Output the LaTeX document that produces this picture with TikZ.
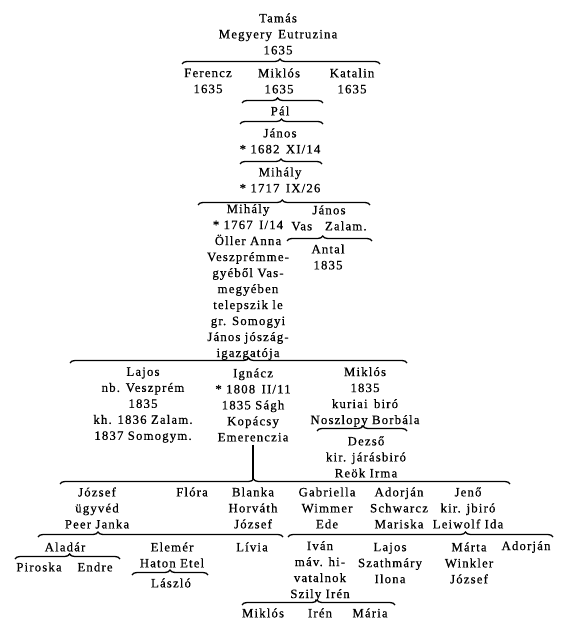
\documentclass[tikz,border=0pt]{standalone}
\usepackage{fontspec}
\setmainfont{Liberation Serif}[LetterSpace=9, FakeBold=0.5]
\usetikzlibrary{decorations.pathreplacing}
\begin{document}
\begin{tikzpicture}[x=1pt,y=-1pt,
  person/.style={align=center, inner sep=0pt, font=\fontsize{12.8}{16}\selectfont},
  br/.style={decorate, decoration={brace, amplitude=5pt, aspect=#1}, line width=1.3pt},
  br/.default=0.5,
  stem/.style={line width=1.7pt}]
\useasboundingbox (0,0) rectangle (574,636);
% ---------- people ----------
\node[person] (tamas) at (278,34) {Tamás\\Megyery\enskip Eutruzina\\1635};
\node[person] (ferencz) at (208,81) {Ferencz\\1635};
\node[person] (miklosA) at (279,81) {Miklós\\1635};
\node[person] (katalin) at (352,81) {Katalin\\1635};
\node[person] (pal) at (280,111) {Pál};
\node[person] (janosA) at (280,141) {János\\* 1682\enskip XI/14};
\node[person] (mihalyA) at (280,180) {Mihály\\* 1717\enskip IX/26};
\node[person] (mihalyB) at (248,282) {Mihály\\* 1767\enskip I/14\\Öller Anna\\Veszprémme-\\gyéből Vas-\\megyében\\telepszik le\\gr. Somogyi\\János jószág-\\igazgatója};
\node[person] (janosB) at (329,218) {János\\Vas\enskip\enskip Zalam.};
\node[person] (antal) at (328,257) {Antal\\1835};
\node[person] (lajosA) at (143,405) {Lajos\\nb. Veszprém\\1835\\kh. 1836 Zalam.\\1837 Somogym.};
\node[person] (ignacz) at (253,405) {Ignácz\\* 1808\enskip II/11\\1835 Ságh\\Kopácsy\\Emerenczia};
\node[person] (miklosB) at (365,397) {Miklós\\1835\\kuriai\enskip biró\\Noszlopy Borbála};
\node[person] (dezso) at (366,457) {Dezső\\kir. járásbiró\\Reök Irma};
\node[person] (jozsef) at (97,508) {József\\ügyvéd\\Peer Janka};
\node[person] (flora) at (192,492) {Flóra};
\node[person] (blanka) at (253,508) {Blanka\\Horváth\\József};
\node[person] (gabriella) at (327,508) {Gabriella\\Wimmer\\Ede};
\node[person] (adorjanA) at (399,508) {Adorján\\Schwarcz\\Mariska};
\node[person] (jeno) at (468,508) {Jenő\\kir. jbiró\\Leiwolf Ida};
\node[person] (aladar) at (65,547) {Aladár};
\node[person] (elemer) at (172,555) {Elemér\\Haton Etel};
\node[person] (livia) at (252,547) {Lívia};
\node[person] (ivan) at (320,571) {Iván\\máv. hi-\\vatalnok\\Szily Irén};
\node[person] (lajosB) at (390,563) {Lajos\\Szathmáry\\Ilona};
\node[person] (marta) at (469,563) {Márta\\Winkler\\József};
\node[person] (adorjanB) at (526,547) {Adorján};
\node[person] (piroska) at (39,567) {Piroska};
\node[person] (endre) at (95,567) {Endre};
\node[person] (laszlo) at (171,583) {László};
\node[person] (miklosC) at (263,613) {Miklós};
\node[person] (iren) at (320,613) {Irén};
\node[person] (maria) at (370,613) {Mária};
% ---------- brace end points ----------
\coordinate (b1l) at (182,64);  \coordinate (b1r) at (380,64);
\coordinate (b2l) at (242,103); \coordinate (b2r) at (323,103);
\coordinate (b3l) at (240,124); \coordinate (b3r) at (323,124);
\coordinate (b4l) at (240,164); \coordinate (b4r) at (322,164);
\coordinate (b5l) at (198,205); \coordinate (b5r) at (370,205);
\coordinate (b6l) at (287,241); \coordinate (b6r) at (372,241);
\coordinate (b7l) at (70,363);  \coordinate (b7r) at (407,363);
\coordinate (b8l) at (317,431); \coordinate (b8r) at (407,431);
\coordinate (b9l) at (60,484);  \coordinate (b9r) at (510,484);
\coordinate (b9t) at (253,479);
\coordinate (b10l) at (38,537); \coordinate (b10r) at (283,537);
\coordinate (b11l) at (288,537); \coordinate (b11r) at (553,537);
\coordinate (b12l) at (15,559); \coordinate (b12r) at (120,559);
\coordinate (b13l) at (132,575); \coordinate (b13r) at (208,575);
\coordinate (b14l) at (242,605); \coordinate (b14r) at (395,605);
% ---------- braces ----------
\draw[br=0.495] (b1l) -- (b1r);
\draw[br=0.44] (b2l) -- (b2r);
\draw[br=0.5] (b3l) -- (b3r);
\draw[br=0.5] (b4l) -- (b4r);
\draw[br=0.49] (b5l) -- (b5r);
\draw[br=0.42] (b6l) -- (b6r);
\draw[br=0.53] (b7l) -- (b7r);
\draw[br=0.51] (b8l) -- (b8r);
\draw[br=0.43] (b9l) -- (b9r);
\draw[stem] (ignacz.south) ++(0,3) -- (b9t);
\draw[br=0.245] (b10l) -- (b10r);
\draw[br=0.67] (b11l) -- (b11r);
\draw[br=0.52] (b12l) -- (b12r);
\draw[br=0.5] (b13l) -- (b13r);
\draw[br=0.49] (b14l) -- (b14r);
\end{tikzpicture}
\end{document}
